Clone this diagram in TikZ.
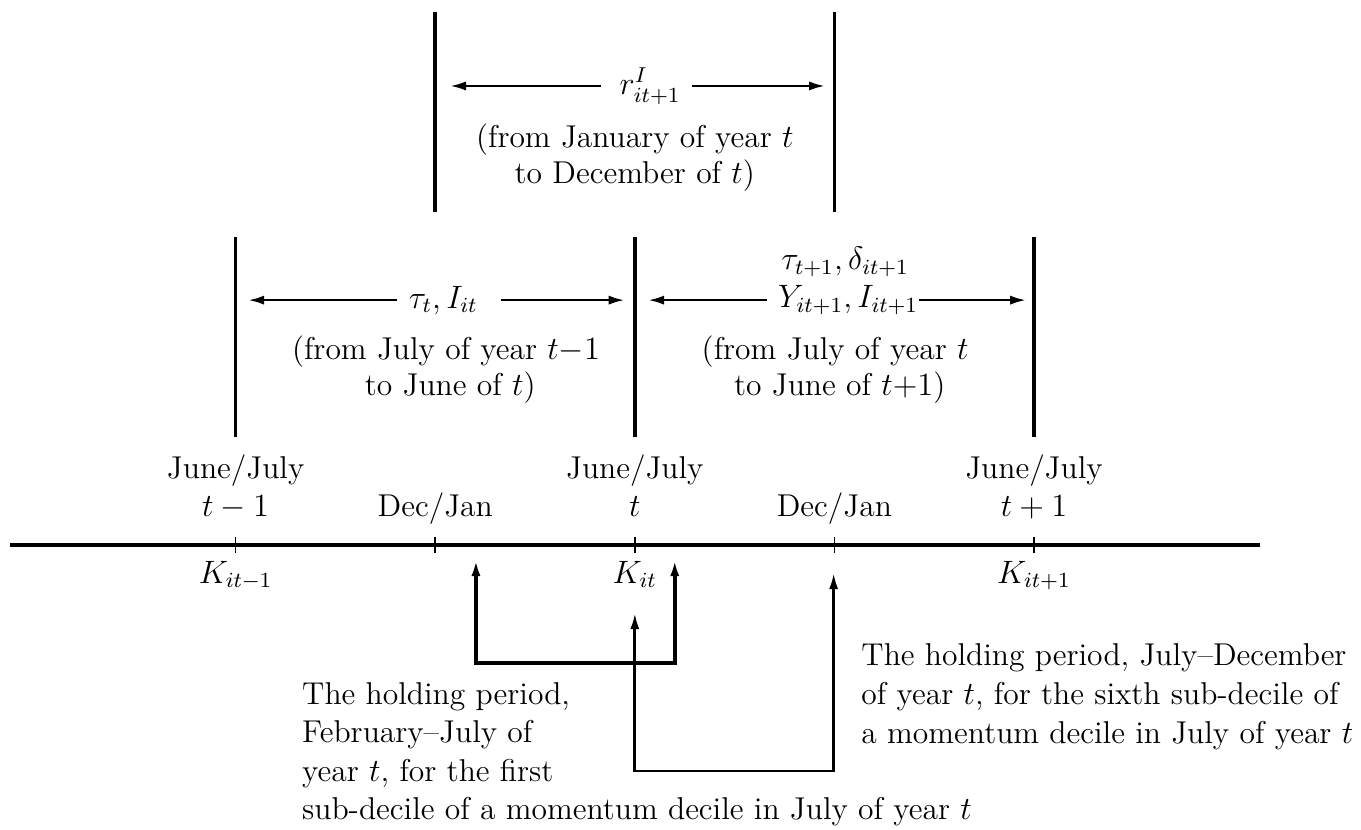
\documentclass[tikz,border=0pt,12pt]{standalone}
\usepackage{amsmath}
\usetikzlibrary{arrows.meta}
\tikzstyle{bar} = [line width=1.3pt]
\tikzstyle{tickmark} = [line width=0.6pt]
\tikzstyle{period} = [line width=1pt, -{Latex[length=6pt,width=3.4pt]}]
\tikzstyle{hold} = [line width=1.3pt, {Latex[length=6pt,width=3.4pt]}-{Latex[length=6pt,width=3.4pt]}]
\tikzstyle{note} = [anchor=base west, align=left, inner sep=0pt]

\begin{document}
\begin{tikzpicture}[font=\fontsize{11.7}{14.3}\selectfont]
\useasboundingbox (-8.27,-3.70) rectangle (9.46,7.10);

% time line
\coordinate (axl) at (-8.14,0);
\coordinate (axr) at (8.14,0);
\coordinate (jj0) at (-5.2,0);
\coordinate (dj0) at (-2.6,0);
\coordinate (jj1) at (0,0);
\coordinate (dj1) at (2.6,0);
\coordinate (jj2) at (5.2,0);
\draw[line width=1.2pt] (axl) -- (axr);
\foreach \c in {jj0,dj0,jj1,dj1,jj2}
    \draw[tickmark] ([yshift=-0.1cm]\c) -- ([yshift=0.1cm]\c);

\node[anchor=base, align=center] (lbJ0) at (-5.2,0.365) {June/July\\$t-1$};
\node[anchor=base] (lbD0) at (-2.6,0.365) {Dec/Jan};
\node[anchor=base, align=center] (lbJ1) at (0,0.365) {June/July\\$t$};
\node[anchor=base] (lbD1) at (2.6,0.365) {Dec/Jan};
\node[anchor=base, align=center] (lbJ2) at (5.2,0.365) {June/July\\$t+1$};

\node[anchor=base] (lbK0) at (-5.2,-0.495) {$K_{it-1}$};
\node[anchor=base] (lbK1) at (0,-0.495) {$K_{it}$};
\node[anchor=base] (lbK2) at (5.2,-0.495) {$K_{it+1}$};

% vertical bars
\draw[bar] ([yshift=4.34cm]dj0) -- ([yshift=6.945cm]dj0);
\draw[bar] ([yshift=4.34cm]dj1) -- ([yshift=6.945cm]dj1);
\foreach \c in {jj0,jj1,jj2}
    \draw[bar] ([yshift=1.407cm]\c) -- ([yshift=4.013cm]\c);

% calendar year
\node (rI) at (0.20,5.98) {$r^I_{it+1}$};
\coordinate (rIl) at (-2.41,5.98);
\coordinate (rIr) at (2.48,5.98);
\draw[period] ([xshift=-0.1cm]rI.west) -- (rIl);
\draw[period] (rI.east) -- (rIr);
\node[align=center] (fromTop) at (0,5.05) {(from January of year $t$\\[-1pt]to December of $t$)};

% fiscal years
\node (tauL) at (-2.495,3.19) {$\tau_t, I_{it}$};
\coordinate (tauLl) at (-5.04,3.19);
\coordinate (tauLr) at (-0.13,3.19);
\draw[period] (tauL.west) -- (tauLl);
\draw[period] ([xshift=0.16cm]tauL.east) -- (tauLr);
\node[align=left] (fromL) at (-2.46,2.29) {(from July of year $t{-}1$\\[-1pt]\hspace*{27pt}to June of $t$)};

\node (tauR) at (2.74,3.69) {$\tau_{t+1}, \delta_{it+1}$};
\node (yR) at (2.78,3.19) {$Y_{it+1}, I_{it+1}$};
\coordinate (yRl) at (0.17,3.19);
\coordinate (yRr) at (5.1,3.19);
\draw[period] (yR.west) -- (yRl);
\draw[period] ([xshift=-0.14cm]yR.east) -- (yRr);
\node[align=left] (fromR) at (2.61,2.29) {(from July of year $t$\\[-1pt]\hspace*{12pt}to June of $t{+}1$)};

% holding periods
\coordinate (fa) at (-2.07,-0.195);
\coordinate (fb) at (0.52,-0.195);
\coordinate (fbase) at (0,-1.54);
\draw[hold] (fa) -- (fa |- fbase) -- (fb |- fbase) -- (fb);
\coordinate (sa) at (0,-0.886);
\coordinate (sb) at (2.59,-0.365);
\coordinate (sbase) at (0,-2.945);
\draw[hold, line width=1pt] (sa) -- (sa |- sbase) -- (sb |- sbase) -- (sb);

\node[note] (holdA) at (-4.34,-3.58) {The holding period,\\February--July of\\year $t$, for the first\\sub-decile of a momentum decile in July of year $t$};
\node[note] (holdB) at (2.945,-2.58) {The holding period, July--December\\of year $t$, for the sixth sub-decile of\\a momentum decile in July of year $t$};

\end{tikzpicture}
\end{document}
